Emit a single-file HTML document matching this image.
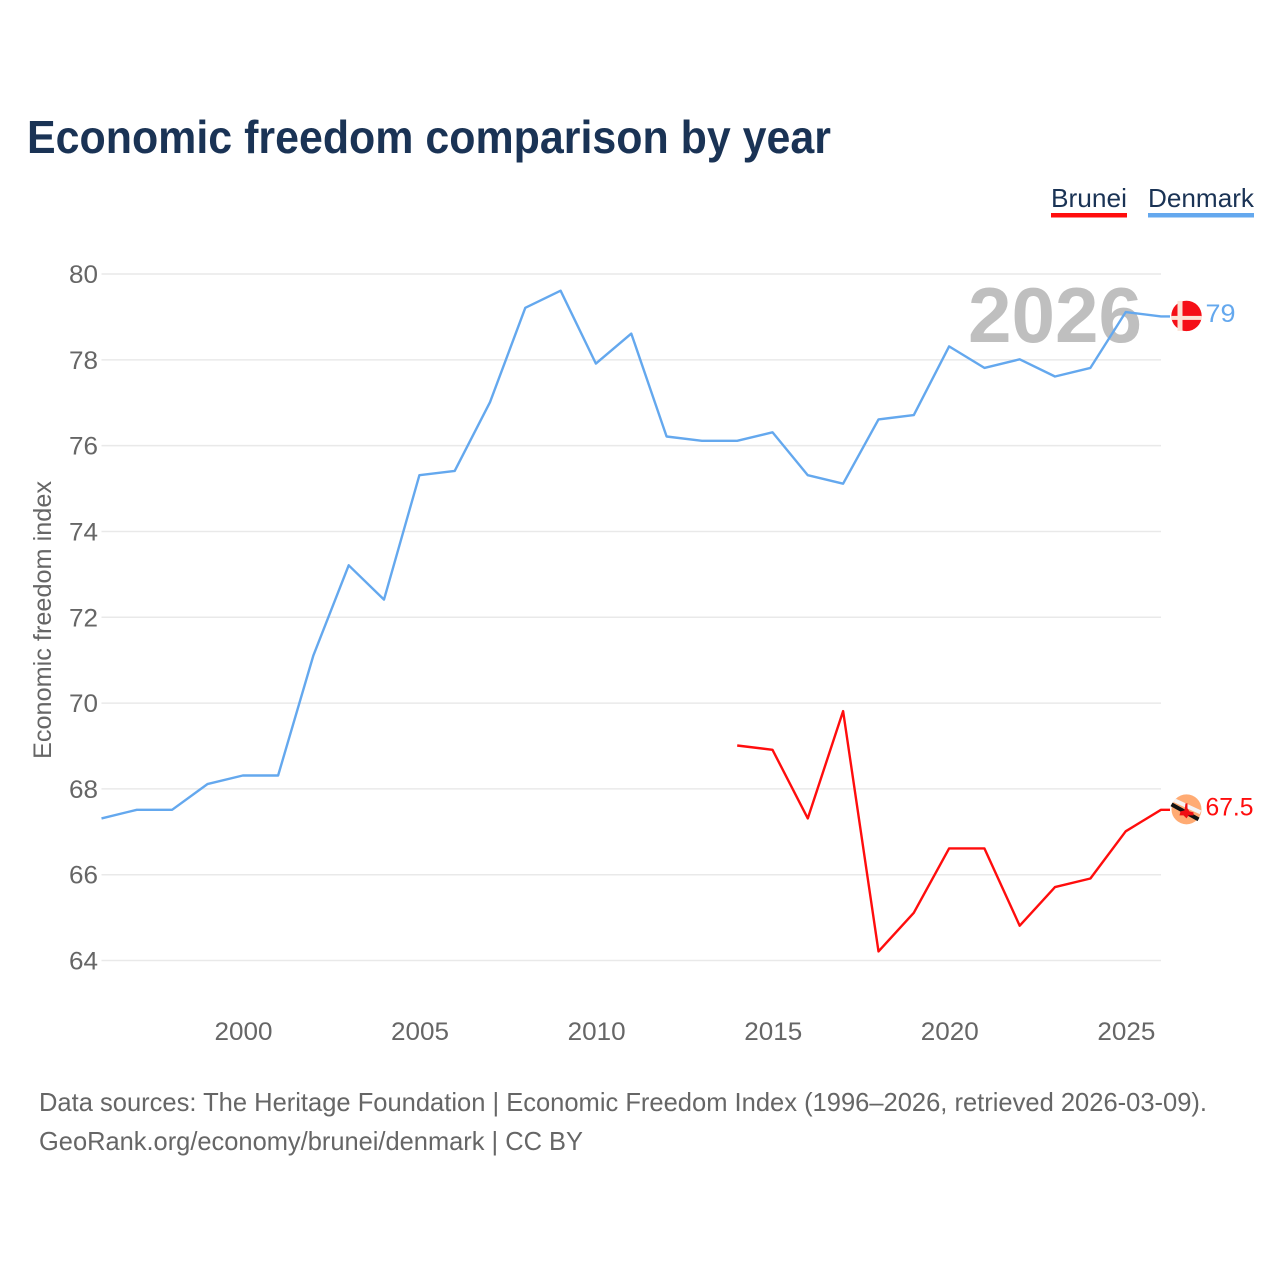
<!DOCTYPE html>
<html><head><meta charset="utf-8">
<style>
html,body{margin:0;padding:0;background:#fff;width:1280px;height:1280px;overflow:hidden}
svg{display:block}
text{font-family:"Liberation Sans",sans-serif}
</style></head>
<body>
<svg id="chart" width="1280" height="1280" viewBox="0 0 1280 1280" xmlns="http://www.w3.org/2000/svg">
<text x="27" y="153" font-size="46" font-weight="700" fill="#1a3355" textLength="804" lengthAdjust="spacingAndGlyphs">Economic freedom comparison by year</text>
<g id="grid"></g>
<g id="yticks"></g>
<g id="xticks"></g>
<text transform="translate(51,759) rotate(-90)" font-size="25" fill="#666" textLength="278" lengthAdjust="spacingAndGlyphs">Economic freedom index</text>
<text id="yearLabel" x="968" y="342" font-size="78" font-weight="700" fill="#bfbfbf" textLength="174" lengthAdjust="spacingAndGlyphs">2026</text>
<g id="series"></g>
<g>
<text x="1051" y="207" font-size="26" fill="#1a3355" textLength="76" lengthAdjust="spacingAndGlyphs">Brunei</text>
<rect x="1051" y="213" width="76" height="4.5" fill="#ff0d0d"/>
</g>
<g>
<text x="1148" y="207" font-size="26" fill="#1a3355" textLength="106" lengthAdjust="spacingAndGlyphs">Denmark</text>
<rect x="1148" y="213" width="106" height="4.5" fill="#64a8ee"/>
</g>
<g id="endmarks"></g>
<text x="39" y="1111" font-size="26" fill="#666" textLength="1168" lengthAdjust="spacingAndGlyphs">Data sources: The Heritage Foundation | Economic Freedom Index (1996–2026, retrieved 2026-03-09).</text>
<text x="39" y="1150" font-size="26" fill="#666" textLength="544" lengthAdjust="spacingAndGlyphs">GeoRank.org/economy/brunei/denmark | CC BY</text>
</svg>
<script>
const years = [1996,1997,1998,1999,2000,2001,2002,2003,2004,2005,2006,2007,2008,2009,2010,2011,2012,2013,2014,2015,2016,2017,2018,2019,2020,2021,2022,2023,2024,2025,2026];
const denmarkValues = [67.3,67.5,67.5,68.1,68.3,68.3,71.1,73.2,72.4,75.3,75.4,77,79.2,79.6,77.9,78.6,76.2,76.1,76.1,76.3,75.3,75.1,76.6,76.7,78.3,77.8,78,77.6,77.8,79.1,79];
const bruneiValues = [null,null,null,null,null,null,null,null,null,null,null,null,null,null,null,null,null,null,69,68.9,67.3,69.8,64.2,65.1,66.6,66.6,64.8,65.7,65.9,67,67.5];
const yTickValues = [64,66,68,70,72,74,76,78,80];
const xTickValues = [2000,2005,2010,2015,2020,2025];

const NS = 'http://www.w3.org/2000/svg';
function xScale(y){ return 101.5 + (y - 1996) * (1161 - 101.5) / 30; }
function yScale(v){ return 960.5 - (v - 64) * (960.5 - 274) / 16; }
function make(tag, attrs, parent){
  const el = document.createElementNS(NS, tag);
  for (const k in attrs) el.setAttribute(k, attrs[k]);
  parent.appendChild(el);
  return el;
}
const grid = document.getElementById('grid');
const yticks = document.getElementById('yticks');
const xticks = document.getElementById('xticks');
const series = document.getElementById('series');
const endmarks = document.getElementById('endmarks');

yTickValues.forEach(function(v){
  const line = make('line', {x1:101.5, x2:1161, y1:yScale(v), y2:yScale(v), stroke:'#e9e9e9', 'stroke-width':1.5}, grid);
  
  
  const t = make('text', {x:98, y:yScale(v)+9, 'text-anchor':'end', 'font-size':25, fill:'#666', textLength:29, lengthAdjust:'spacingAndGlyphs'}, yticks);
  t.textContent = v;
  
  
});
xTickValues.forEach(function(y){
  const t = make('text', {x:xScale(y)+0.7, y:1040, 'text-anchor':'middle', 'font-size':25, fill:'#666', textLength:58, lengthAdjust:'spacingAndGlyphs'}, xticks);
  t.textContent = y;
  
  
});

function drawSeries(values, color){
  const pts = [];
  values.forEach(function(v, i){
    if (v !== null) pts.push(xScale(years[i]).toFixed(1) + ',' + (yScale(v) - 0.5).toFixed(1));
  });
  const last = values[values.length - 1];
  pts.push((xScale(years[years.length - 1]) + 9).toFixed(1) + ',' + (yScale(last) - 0.5).toFixed(1));
  return make('polyline', {points:pts.join(' '), fill:'none', stroke:color, 'stroke-width':2.4, 'stroke-linejoin':'round'}, series);
}
const brLine = drawSeries(bruneiValues, '#ff0d0d');


const dkLine = drawSeries(denmarkValues, '#64a8ee');



// Denmark flag marker
const fx = 1186.5;
const dkY = yScale(denmarkValues[denmarkValues.length - 1]) - 1;
const dk = make('g', {transform:'translate(' + fx + ',' + dkY + ')'}, endmarks);


make('circle', {r:15.2, fill:'#f50f17'}, dk);
make('rect', {x:-9, y:-15, width:5, height:30, fill:'#fbe3d6'}, dk);
make('rect', {x:-15.2, y:0, width:30.4, height:4, fill:'#fbe3d6'}, dk);
const dkLabel = make('text', {x:1205.5, y:dkY+6, 'font-size':25, fill:'#64a8ee', textLength:30, lengthAdjust:'spacingAndGlyphs'}, endmarks);
dkLabel.textContent = denmarkValues[denmarkValues.length - 1];



// Brunei flag marker
const brY = yScale(bruneiValues[bruneiValues.length - 1]) - 1;
const br = make('g', {transform:'translate(' + fx + ',' + brY + ')'}, endmarks);


make('circle', {r:15, fill:'#ffab73'}, br);
make('line', {x1:-12, y1:-9, x2:14, y2:3, stroke:'#f4f4f4', 'stroke-width':4}, br);
make('line', {x1:-15, y1:-5, x2:12, y2:10, stroke:'#111', 'stroke-width':4}, br);
make('path', {d:'M-1 -6 L1 -6 L1 -1 L3 2 L7 3 L7 6 L2 6 L0 9 L-3 6 L-7 6 L-6 2 L-2 1 Z', fill:'#f00f14'}, br);
const brLabel = make('text', {x:1205.5, y:brY+6, 'font-size':25, fill:'#ff0d0d', textLength:48, lengthAdjust:'spacingAndGlyphs'}, endmarks);
brLabel.textContent = bruneiValues[bruneiValues.length - 1];


</script>
</body></html>
